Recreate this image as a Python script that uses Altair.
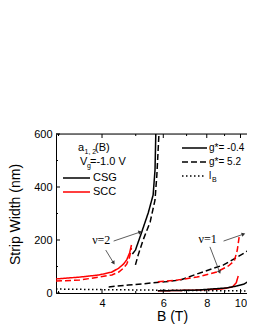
import altair as alt
import pandas as pd

# ---- data (B in tesla, strip width in nm) ----
csg_n2_B = [4.89, 4.99, 5.19, 5.43, 5.61, 5.68, 5.71]
csg_n2_W = [147, 162, 226, 302, 370, 464, 600]

csg52_n2_B = [4.99, 5.08, 5.25, 5.50, 5.68, 5.75, 5.83]
csg52_n2_W = [106, 143, 200, 268, 351, 445, 600]

scc_n2_B = [2.95, 3.45, 3.92, 4.27, 4.47, 4.61, 4.71, 4.80, 4.86]
scc_n2_W = [53, 60, 68, 79, 94, 109, 125, 151, 181]

scc52_n2_B = [2.95, 3.45, 3.92, 4.27, 4.47, 4.61, 4.71, 4.80, 4.86]
scc52_n2_W = [45, 49, 60, 68, 79, 94, 109, 136, 170]

csg52_n1_B = [4.18, 4.76, 6.06, 6.72, 7.50, 8.94, 10.37, 10.72]
csg52_n1_W = [23, 30, 42, 49, 72, 106, 155, 170]

scc52_n1_B = [5.79, 6.59, 7.50, 8.54, 9.23, 9.60, 9.79, 9.92]
scc52_n1_W = [42, 49, 60, 79, 102, 121, 162, 215]

scc_n1_B = [5.79, 7.50, 8.83, 9.48, 9.72, 9.85]
scc_n1_W = [8, 11, 15, 23, 38, 64]

csg_n1_B = [5.79, 7.50, 9.11, 9.72, 10.24, 10.72]
csg_n1_W = [8, 11, 19, 26, 34, 50]

lB_B = [2.95, 4, 5, 6, 7, 8, 9, 10, 10.72]
lB_W = [15, 12.8, 11.5, 10.5, 9.7, 9.1, 8.6, 8.1, 7.8]

x_domain = [2.95, 10.44]
y_domain = [0, 600]
x_major = [4, 6, 8, 10]
x_minor = [3, 5, 7, 9]
y_major = [0, 200, 400, 600]
y_minor = [100, 300, 500]

# annotation arrows (data coordinates)
arr_B1 = [4.32, 4.10, 8.94, 8.17]
arr_W1 = [196, 162, 196, 174]
arr_B2 = [5.15, 4.32, 10.2, 8.71]
arr_W2 = [230, 113, 222, 79]
arr_ang = [72, 148, 72, 158]

lab_text = ["ν=2", "ν=1"]
lab_B = [3.98, 8.05]
lab_W = [200, 204]

curves = [
    ("csg_n2", csg_n2_B, csg_n2_W, "black", "solid"),
    ("csg52_n2", csg52_n2_B, csg52_n2_W, "black", "dash"),
    ("scc_n2", scc_n2_B, scc_n2_W, "red", "solid"),
    ("scc52_n2", scc52_n2_B, scc52_n2_W, "red", "dash"),
    ("csg52_n1", csg52_n1_B, csg52_n1_W, "black", "dash"),
    ("scc52_n1", scc52_n1_B, scc52_n1_W, "red", "dash"),
    ("scc_n1", scc_n1_B, scc_n1_W, "red", "solid"),
    ("csg_n1", csg_n1_B, csg_n1_W, "black", "solid"),
    ("lB", lB_B, lB_W, "black", "dot"),
]

rows = []
for name, bs, ws, col, dash in curves:
    for i, (b, w) in enumerate(zip(bs, ws)):
        rows.append({"curve": name, "B": b, "W": w, "color": col, "dash": dash, "i": i})
df = pd.DataFrame(rows)

FONT = "Liberation Sans"
PW, PH = 191, 159

xscale = alt.Scale(type="log", domain=x_domain, nice=False)
yscale = alt.Scale(domain=y_domain, nice=False)

lines = alt.Chart(df).mark_line(strokeWidth=1.5, clip=True).encode(
    x=alt.X("B:Q", scale=xscale,
            axis=alt.Axis(values=x_major, format="d", grid=False, tickSize=0,
                          labelFont=FONT, labelFontSize=11, labelPadding=4,
                          labelColor="black", domainColor="black",
                          title="B (T)", titleFont=FONT, titleFontSize=14,
                          titleFontWeight="normal", titleColor="black",
                          titleX=116, titleY=23, titleBaseline="middle")),
    y=alt.Y("W:Q", scale=yscale,
            axis=alt.Axis(values=y_major, grid=False, tickSize=0,
                          labelFont=FONT, labelFontSize=11, labelPadding=4,
                          labelColor="black", domainColor="black",
                          title="Strip Width (nm)", titleFont=FONT, titleFontSize=14,
                          titleFontWeight="normal", titleColor="black",
                          titleX=-41, titleY=80, titleAngle=-90,
                          titleBaseline="middle", titleAlign="center")),
    color=alt.Color("color:N", scale=None),
    strokeDash=alt.StrokeDash("dash:N",
                              scale=alt.Scale(domain=["solid", "dash", "dot"],
                                              range=[[1, 0], [6, 3], [1.5, 2.5]]),
                              legend=None),
    detail="curve:N",
    order="i:Q",
)

# inward ticks
xmaj = pd.DataFrame({"B": x_major})
xmin = pd.DataFrame({"B": x_minor})
ymaj = pd.DataFrame({"W": y_major})
ymin = pd.DataFrame({"W": y_minor})

tick_layers = [
    alt.Chart(xmaj).mark_rule(color="black").encode(
        x=alt.X("B:Q", scale=xscale), y=alt.value(0), y2=alt.value(4)),
    alt.Chart(xmin).mark_rule(color="black").encode(
        x=alt.X("B:Q", scale=xscale), y=alt.value(0), y2=alt.value(2)),
    alt.Chart(xmaj).mark_rule(color="black").encode(
        x=alt.X("B:Q", scale=xscale), y=alt.value(PH), y2=alt.value(PH - 4)),
    alt.Chart(xmin).mark_rule(color="black").encode(
        x=alt.X("B:Q", scale=xscale), y=alt.value(PH), y2=alt.value(PH - 2)),
    alt.Chart(ymaj).mark_rule(color="black").encode(
        y=alt.Y("W:Q", scale=yscale), x=alt.value(0), x2=alt.value(4)),
    alt.Chart(ymin).mark_rule(color="black").encode(
        y=alt.Y("W:Q", scale=yscale), x=alt.value(0), x2=alt.value(2)),
]

top_border = alt.Chart(pd.DataFrame({"k": [0]})).mark_rule(color="black").encode(
    x=alt.value(0), x2=alt.value(PW), y=alt.value(0))

# annotation arrows
arr = pd.DataFrame({"B1": arr_B1, "W1": arr_W1, "B2": arr_B2, "W2": arr_W2, "ang": arr_ang})
arrow_lines = alt.Chart(arr).mark_rule(color="#333333", strokeWidth=0.8).encode(
    x=alt.X("B1:Q", scale=xscale), x2="B2:Q",
    y=alt.Y("W1:Q", scale=yscale), y2="W2:Q")
arrow_heads = alt.Chart(arr).mark_point(shape="triangle-up", filled=True, size=18,
                                        color="#333333", opacity=1).encode(
    x=alt.X("B2:Q", scale=xscale), y=alt.Y("W2:Q", scale=yscale),
    angle=alt.Angle("ang:Q", scale=None))

labs = pd.DataFrame({"t": lab_text, "B": lab_B, "W": lab_W})
nu_text = alt.Chart(labs).mark_text(font="Liberation Serif", fontSize=12, color="black").encode(
    x=alt.X("B:Q", scale=xscale), y=alt.Y("W:Q", scale=yscale), text="t:N")

one = pd.DataFrame({"k": [0]})


def txt(s, x, y, size=11, align="left", baseline="middle", font=FONT):
    return alt.Chart(one).mark_text(text=s, font=font, fontSize=size, align=align,
                                    baseline=baseline, color="black").encode(
        x=alt.value(x), y=alt.value(y))


def seg(x1, x2, y, color, dash):
    return alt.Chart(one).mark_rule(color=color, strokeWidth=1.5, strokeDash=dash).encode(
        x=alt.value(x1), x2=alt.value(x2), y=alt.value(y))


legend = [
    txt("a", 22, 17, 11, baseline="alphabetic"),
    txt("1, 2", 28.5, 20, 7, baseline="alphabetic"),
    txt("(B)", 39, 17, 11, baseline="alphabetic"),
    txt("V", 24, 31, 11, baseline="alphabetic"),
    txt("g", 31, 34, 7, baseline="alphabetic"),
    txt("=-1.0 V", 34, 31, 11, baseline="alphabetic"),
    seg(7, 34, 44, "black", [1, 0]),
    txt("CSG", 37, 44, 11),
    seg(7, 34, 58, "red", [1, 0]),
    txt("SCC", 37, 58, 11),
    seg(126, 151, 14, "black", [1, 0]),
    txt("g*= -0.4", 153, 14, 10),
    seg(126, 151, 28, "black", [6, 3]),
    txt("g*= 5.2", 153, 28, 10),
    seg(126, 150, 42, "black", [1.5, 2.5]),
    txt("l", 153, 42, 10),
    txt("B", 156, 46, 7),
]

chart = alt.layer(
    lines, *tick_layers, top_border, arrow_lines, arrow_heads, nu_text, *legend
).properties(
    width=PW, height=PH,
    padding={"left": 48, "top": 126, "right": 0, "bottom": 34},
    autosize=alt.AutoSizeParams(type="none"),
).configure_view(stroke=None).configure(background="white")

chart.save("out.html", embed_options={"renderer": "svg", "actions": False})
